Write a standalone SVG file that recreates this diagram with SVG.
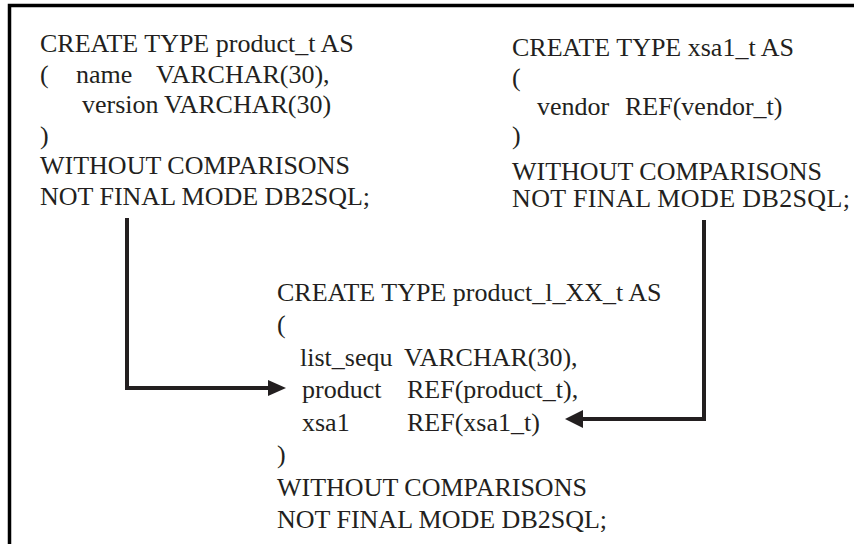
<svg xmlns="http://www.w3.org/2000/svg" width="854" height="544" viewBox="0 0 854 544">
<defs>
<style>
text{font-family:"Liberation Serif","Times New Roman",serif;font-size:26px;fill:#231f20;}
.conn{fill:none;stroke:#231f20;stroke-width:4;}
.frame{fill:none;stroke:#000;stroke-width:3.5;}
.head{fill:#231f20;}
</style>
</defs>
<rect width="854" height="544" fill="#fff"/>
<path class="frame" d="M9.5,544 V5.5 H854"/>
<g id="product_t">
<text x="40" y="52">CREATE TYPE product_t AS</text>
<text y="82.6"><tspan x="40">(</tspan><tspan x="76">name</tspan><tspan x="156">VARCHAR(30),</tspan></text>
<text y="113.2"><tspan x="82">version</tspan><tspan x="164">VARCHAR(30)</tspan></text>
<text x="40" y="143.8">)</text>
<text x="40" y="174.4">WITHOUT COMPARISONS</text>
<text x="40" y="205">NOT FINAL MODE DB2SQL;</text>
</g>
<g id="xsa1_t">
<text x="512" y="56">CREATE TYPE xsa1_t AS</text>
<text x="512" y="86">(</text>
<text y="115"><tspan x="537">vendor</tspan><tspan x="625">REF(vendor_t)</tspan></text>
<text x="512" y="144">)</text>
<text x="512" y="180">WITHOUT COMPARISONS</text>
<text x="512" y="207" textLength="338">NOT FINAL MODE DB2SQL;</text>
</g>
<g id="product_l_XX_t">
<text x="277" y="300.5">CREATE TYPE product_l_XX_t AS</text>
<text x="277" y="333">(</text>
<text y="365.5"><tspan x="300">list_sequ</tspan><tspan x="404">VARCHAR(30),</tspan></text>
<text y="398"><tspan x="302">product</tspan><tspan x="407">REF(product_t),</tspan></text>
<text y="430.5"><tspan x="302">xsa1</tspan><tspan x="407">REF(xsa1_t)</tspan></text>
<text x="277" y="463">)</text>
<text x="277" y="495.5">WITHOUT COMPARISONS</text>
<text x="277" y="528">NOT FINAL MODE DB2SQL;</text>
</g>
<g id="connectors">
<path class="conn" d="M127,218 V388 H270"/>
<polygon class="head" points="268,380 286,388 268,396"/>
<path class="conn" d="M704,220 V419 H580"/>
<polygon class="head" points="583,410 565,419 583,428"/>
</g>
</svg>
